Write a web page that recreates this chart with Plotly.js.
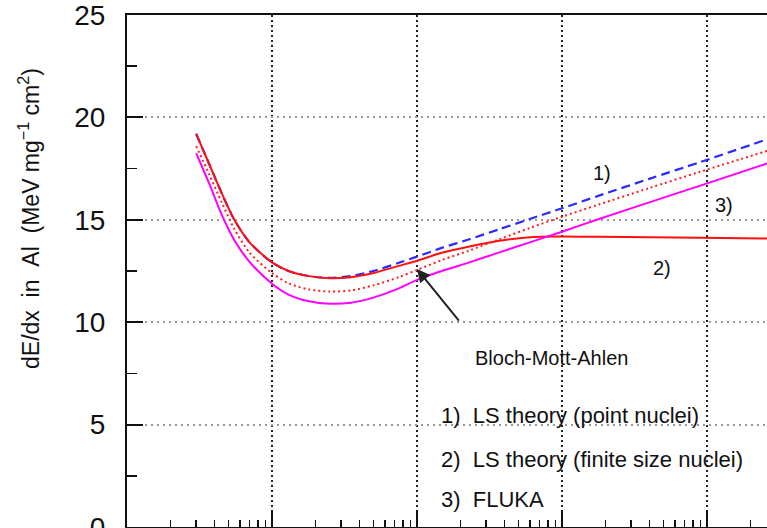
<!DOCTYPE html>
<html>
<head>
<meta charset="utf-8">
<script src="https://cdn.plot.ly/plotly-3.0.1.min.js"></script>
<style>
  html, body { margin: 0; padding: 0; background: #fff; overflow: hidden; }
  #chart { width: 767px; height: 528px; }
</style>
</head>
<body>
<div id="chart"></div>
<script>
// Kinetic energy per nucleon (GeV/n), log axis
const energy = [0.3, 0.37, 0.45, 0.55, 0.7, 1, 1.3, 1.8, 2.5, 3.5, 5, 7.5, 10, 15, 23, 37, 60, 100, 180, 400, 900, 3000];
// dE/dx in Al (MeV mg^-1 cm^2)
const lsPointNuclei  = [19.2, 17.7, 16.3, 15.0, 13.9, 12.92, 12.5, 12.25, 12.17, 12.25, 12.5, 12.9, 13.2, 13.64, 14.05, 14.54, 15.04, 15.56, 16.18, 17.0, 17.82, 19.08];
const lsFiniteNuclei = [19.2, 17.7, 16.3, 15.0, 13.9, 12.92, 12.5, 12.25, 12.15, 12.2, 12.4, 12.75, 13.0, 13.4, 13.7, 13.98, 14.15, 14.18, 14.17, 14.15, 14.12, 14.08];
const blochMottAhlen = [18.6, 17.2, 15.85, 14.55, 13.4, 12.4, 11.9, 11.6, 11.5, 11.55, 11.8, 12.2, 12.55, 13.05, 13.5, 14.05, 14.6, 15.15, 15.75, 16.55, 17.35, 18.5];
const fluka          = [18.25, 16.75, 15.25, 14.0, 12.95, 11.88, 11.35, 11.02, 10.9, 10.95, 11.2, 11.65, 12.07, 12.51, 12.92, 13.41, 13.9, 14.42, 15.04, 15.85, 16.67, 17.9];

const yTickVals = [0, 5, 10, 15, 20, 25];
const yMinorVals = [2.5, 7.5, 12.5, 17.5, 22.5];
const xMajorVals = [0.1, 1, 10, 100, 1000, 10000];
const xMinorVals = [];
for (let d = 0.1; d < 5000; d *= 10) {
  for (let m = 2; m <= 9; m++) xMinorVals.push(+(d * m).toPrecision(3));
}

const legendLines = ['1)&nbsp;&nbsp;LS theory (point nuclei)', '2)&nbsp;&nbsp;LS theory (finite size nuclei)', '3)&nbsp;&nbsp;FLUKA'];
const curveLabels = ['1)', '2)', '3)'];

const FONT = 'Liberation Sans, Arial, sans-serif';

const traces = [
  { x: energy, y: lsPointNuclei, mode: 'lines', line: { color: '#2b2bff', width: 2.2, dash: '9px,5px', shape: 'spline', smoothing: 0.8 }, name: 'LS point' },
  { x: energy, y: lsFiniteNuclei, mode: 'lines', line: { color: '#ff1010', width: 2, shape: 'spline', smoothing: 0.8 }, name: 'LS finite' },
  { x: energy, y: blochMottAhlen, mode: 'lines', line: { color: '#ff2020', width: 2, dash: '2px,3px', shape: 'spline', smoothing: 0.8 }, name: 'BMA' },
  { x: energy, y: fluka, mode: 'lines', line: { color: '#ff00ff', width: 2, shape: 'spline', smoothing: 0.8 }, name: 'FLUKA' }
];

const lg = v => Math.log10(v);

const annotations = [
  { xref: 'paper', yref: 'paper', x: -0.152, y: 0.603, text: 'dE/dx&nbsp;&nbsp;in&nbsp;&nbsp;Al&nbsp;&nbsp;(MeV mg<sup>−1</sup> cm<sup>2</sup>)',
    textangle: -90, showarrow: false, font: { family: FONT, size: 23, color: '#111' }, xanchor: 'center', yanchor: 'middle' },
  { x: lg(10), y: 12.6, ax: 1.297, ay: 10.0, axref: 'x', ayref: 'y', xref: 'x', yref: 'y', text: '',
    showarrow: true, arrowhead: 2, arrowsize: 1.3, arrowwidth: 2, arrowcolor: '#222', standoff: 0 },
  { x: 1.931, y: 8.25, text: 'Bloch-Mott-Ahlen', showarrow: false, font: { family: FONT, size: 20, color: '#111' }, xanchor: 'center', yanchor: 'middle' },
  { x: 1.155, y: 5.45, text: legendLines[0], showarrow: false, font: { family: FONT, size: 22, color: '#111' }, xanchor: 'left', yanchor: 'middle' },
  { x: 1.155, y: 3.3, text: legendLines[1], showarrow: false, font: { family: FONT, size: 22, color: '#111' }, xanchor: 'left', yanchor: 'middle' },
  { x: 1.155, y: 1.35, text: legendLines[2], showarrow: false, font: { family: FONT, size: 22, color: '#111' }, xanchor: 'left', yanchor: 'middle' },
  { x: 2.275, y: 17.3, text: curveLabels[0], showarrow: false, font: { family: FONT, size: 20, color: '#111' } },
  { x: 2.69, y: 12.65, text: curveLabels[1], showarrow: false, font: { family: FONT, size: 20, color: '#111' } },
  { x: 3.115, y: 15.7, text: curveLabels[2], showarrow: false, font: { family: FONT, size: 20, color: '#111' } }
];

const layout = {
  width: 767, height: 528,
  margin: { l: 127, r: 0, t: 15, b: 1 },
  paper_bgcolor: '#fff', plot_bgcolor: '#fff',
  showlegend: false,
  font: { family: FONT, color: '#111' },
  xaxis: {
    type: 'log', range: [-1, 3.414],
    tickmode: 'array', tickvals: xMajorVals, showticklabels: false,
    ticks: 'inside', ticklen: 17, tickwidth: 2, tickcolor: '#111',
    showgrid: true, gridcolor: '#222', gridwidth: 2, griddash: '2px,3px',
    minor: { tickmode: 'array', tickvals: xMinorVals, ticks: 'inside', ticklen: 7, tickwidth: 1.5, tickcolor: '#111', showgrid: false },
    showline: true, linecolor: '#111', linewidth: 2, mirror: true, zeroline: false
  },
  yaxis: {
    range: [0, 25],
    tickmode: 'array', tickvals: yTickVals,
    ticks: 'inside', ticklen: 16, tickwidth: 2, tickcolor: '#111',
    tickfont: { family: FONT, size: 28, color: '#111' }, ticklabelstandoff: 14,
    ticklabeloverflow: 'allow',
    showgrid: true, gridcolor: '#999', gridwidth: 2, griddash: '2px,4px',
    minor: { tickmode: 'array', tickvals: yMinorVals, ticks: 'inside', ticklen: 10, tickwidth: 1.5, tickcolor: '#111', showgrid: false },
    showline: true, linecolor: '#111', linewidth: 2, mirror: true, zeroline: false
  },
  annotations: annotations
};

Plotly.newPlot('chart', traces, layout, { displayModeBar: false, staticPlot: true });
</script>
</body>
</html>
